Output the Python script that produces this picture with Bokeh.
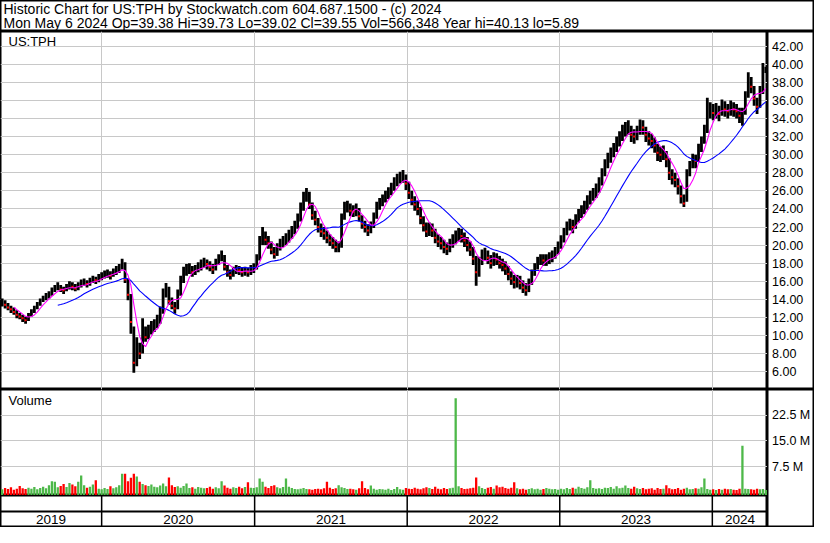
import numpy as np
import pandas as pd
from bokeh.plotting import figure
from bokeh.layouts import column, row
from bokeh.models import ColumnDataSource, Range1d, FixedTicker, Grid, Span
from bokeh.core.properties import value
from bokeh.embed import file_html
from bokeh.resources import INLINE

# ---------------- data (weekly) ----------------
week_start = pd.date_range("2019-05-06", periods=262, freq="7D")

close = [
    13.6, 13.4, 13.1, 12.9, 12.6, 12.3, 12.1, 11.9, 11.7, 12.2,
    12.6, 13.0, 13.4, 13.8, 14.1, 14.3, 14.6, 14.9, 15.2, 15.4,
    15.1, 15.0, 15.3, 15.6, 15.4, 15.2, 15.5, 15.8, 15.9, 15.7,
    16.0, 16.2, 16.1, 16.4, 16.6, 16.8, 16.9, 16.6, 17.0, 17.2,
    17.5, 18.0, 16.2, 14.5, 11.5, 7.0, 8.5, 8.0, 10.5, 9.8,
    10.5, 10.8, 11.0, 11.5, 12.5, 14.5, 15.3, 13.8, 13.3, 13.0,
    14.6, 16.0, 17.0, 17.2, 17.4, 17.0, 17.3, 17.5, 17.8, 18.0,
    17.9, 17.6, 17.3, 18.0, 18.5, 18.8, 17.6, 17.0, 16.7, 17.1,
    17.3, 17.2, 17.0, 17.1, 17.0, 17.2, 17.5, 18.5, 20.3, 21.0,
    20.6, 20.2, 19.5, 19.0, 19.6, 20.1, 20.4, 20.6, 21.0, 21.5,
    22.0, 22.8, 24.0, 25.2, 25.6, 24.5, 23.3, 22.8, 22.0, 21.5,
    21.3, 20.8, 20.5, 20.2, 19.8, 19.8, 23.0, 24.2, 24.3, 23.8,
    23.7, 23.9, 23.2, 22.4, 22.0, 21.6, 22.0, 23.0, 24.2, 24.6,
    25.0, 25.4, 25.8, 26.2, 26.8, 27.2, 27.5, 27.6, 26.8, 25.8,
    25.0, 24.5, 24.0, 23.0, 22.2, 21.5, 21.8, 21.6, 20.8, 20.4,
    20.2, 19.8, 19.6, 20.0, 20.5, 20.8, 21.2, 21.0, 20.5, 20.0,
    19.5, 18.5, 17.0, 18.0, 18.8, 19.0, 18.6, 18.0, 18.5, 18.4,
    18.0, 17.8, 17.4, 16.8, 16.3, 15.9, 16.0, 15.8, 15.3, 15.0,
    15.8, 16.8, 17.5, 18.2, 18.5, 18.3, 18.4, 18.6, 18.8, 19.2,
    19.8, 20.5, 21.3, 22.0, 22.3, 22.0, 22.8, 23.4, 23.8, 24.2,
    24.8, 25.3, 25.6, 26.0, 26.8, 27.8, 28.8, 29.4, 30.0, 30.5,
    31.2, 31.8, 32.5, 32.9, 33.0, 32.2, 32.0, 32.4, 33.2, 33.0,
    32.2, 31.8, 31.5, 31.0, 30.2, 30.0, 30.2, 29.5, 28.0, 27.5,
    27.2, 26.5, 25.4, 24.6, 27.8, 28.6, 29.4, 29.3, 30.5, 31.3,
    32.5, 34.5, 35.0, 34.6, 34.9, 34.5, 35.3, 35.0, 34.8, 35.2,
    35.0, 34.8, 34.3, 34.5, 36.4, 38.2, 37.5, 36.2, 35.3, 36.8,
    38.8, 39.55,
]

high = [
    14.1, 13.9, 13.6, 13.3, 13.1, 12.8, 12.5, 12.3, 12.1, 12.5,
    12.9, 13.3, 13.7, 14.1, 14.4, 14.7, 14.9, 15.3, 15.6, 15.9,
    15.6, 15.4, 15.7, 16.0, 15.9, 15.7, 15.9, 16.2, 16.3, 16.1,
    16.4, 16.6, 16.5, 16.8, 17.0, 17.2, 17.3, 17.1, 17.4, 17.7,
    17.9, 18.5, 18.1, 16.3, 14.6, 11.0, 9.8, 9.2, 11.9, 11.0,
    11.2, 11.6, 11.8, 12.3, 13.2, 15.2, 15.8, 15.4, 14.2, 13.7,
    15.1, 16.6, 17.6, 17.9, 18.0, 17.7, 17.8, 18.1, 18.4, 18.6,
    18.4, 18.2, 17.9, 18.5, 19.0, 19.4, 18.9, 17.8, 17.3, 17.6,
    17.8, 17.7, 17.5, 17.6, 17.5, 17.8, 18.0, 19.0, 21.0, 22.0,
    21.5, 21.0, 20.4, 19.8, 20.2, 20.7, 21.0, 21.3, 21.7, 22.1,
    22.7, 23.5, 24.7, 25.9, 26.3, 25.9, 24.7, 23.8, 23.0, 22.4,
    22.0, 21.6, 21.2, 20.9, 20.6, 20.4, 23.5, 24.8, 24.9, 24.6,
    24.4, 24.6, 24.1, 23.3, 22.7, 22.3, 22.6, 23.6, 24.8, 25.2,
    25.6, 26.0, 26.4, 26.9, 27.5, 27.9, 28.1, 28.3, 27.8, 27.0,
    26.0, 25.4, 24.9, 24.2, 23.2, 22.5, 22.5, 22.4, 21.8, 21.2,
    20.9, 20.6, 20.3, 20.7, 21.2, 21.6, 21.9, 21.8, 21.4, 20.9,
    20.4, 19.8, 18.8, 18.7, 19.5, 19.7, 19.4, 18.9, 19.2, 19.1,
    18.8, 18.5, 18.2, 17.7, 17.1, 16.7, 16.7, 16.6, 16.1, 15.8,
    16.3, 17.3, 18.0, 18.7, 19.0, 19.0, 19.0, 19.2, 19.4, 19.8,
    20.4, 21.1, 21.9, 22.6, 22.9, 22.8, 23.4, 24.0, 24.4, 24.9,
    25.5, 26.0, 26.3, 26.8, 27.5, 28.5, 29.5, 30.2, 30.8, 31.3,
    32.0, 32.6, 33.3, 33.6, 33.8, 33.2, 32.8, 33.2, 33.9, 33.8,
    33.1, 32.6, 32.3, 31.9, 31.2, 30.9, 31.0, 30.4, 29.6, 28.4,
    28.0, 27.4, 26.6, 25.6, 28.4, 29.3, 30.1, 30.0, 31.2, 32.0,
    33.3, 36.3, 35.8, 35.6, 35.7, 35.4, 36.1, 35.9, 35.6, 36.0,
    35.8, 35.6, 35.2, 35.2, 37.0, 39.1, 38.6, 37.6, 36.3, 37.6,
    40.13, 39.73,
]

low = [
    13.2, 13.0, 12.8, 12.5, 12.3, 11.9, 11.8, 11.5, 11.3, 11.6,
    12.1, 12.5, 12.9, 13.3, 13.7, 13.9, 14.1, 14.4, 14.8, 15.0,
    14.8, 14.6, 14.9, 15.1, 15.0, 14.9, 15.0, 15.3, 15.5, 15.3,
    15.5, 15.8, 15.7, 15.9, 16.1, 16.3, 16.4, 16.2, 16.5, 16.7,
    16.9, 17.3, 15.8, 13.9, 10.2, 5.89, 6.6, 7.4, 8.0, 9.3,
    9.6, 10.1, 10.4, 10.8, 11.3, 12.4, 14.2, 13.4, 12.9, 12.4,
    12.9, 14.4, 15.8, 16.6, 16.8, 16.5, 16.7, 17.0, 17.2, 17.5,
    17.3, 17.1, 16.8, 17.2, 17.8, 18.2, 17.2, 16.5, 16.2, 16.5,
    16.8, 16.7, 16.5, 16.6, 16.5, 16.7, 16.9, 17.3, 18.3, 20.0,
    20.0, 19.6, 19.0, 18.5, 18.8, 19.4, 19.8, 20.0, 20.3, 20.7,
    21.2, 21.8, 22.6, 23.8, 24.8, 24.0, 22.8, 22.2, 21.4, 20.9,
    20.6, 20.2, 19.9, 19.6, 19.2, 19.2, 19.7, 22.8, 23.6, 23.2,
    23.1, 23.2, 22.6, 21.8, 21.4, 21.0, 21.3, 21.9, 22.9, 23.9,
    24.3, 24.7, 25.1, 25.5, 26.0, 26.5, 26.8, 26.9, 26.1, 25.1,
    24.4, 23.8, 23.3, 22.3, 21.5, 20.9, 21.0, 20.9, 20.2, 19.8,
    19.5, 19.1, 18.9, 19.2, 19.7, 20.1, 20.4, 20.3, 19.8, 19.3,
    18.8, 17.8, 15.5, 16.5, 17.8, 18.3, 17.9, 17.4, 17.7, 17.8,
    17.4, 17.1, 16.7, 16.1, 15.6, 15.2, 15.3, 15.1, 14.7, 14.4,
    14.8, 15.6, 16.6, 17.3, 17.8, 17.7, 17.7, 17.9, 18.1, 18.5,
    19.0, 19.6, 20.3, 21.1, 21.6, 21.3, 21.8, 22.5, 23.0, 23.4,
    23.9, 24.5, 24.9, 25.2, 25.8, 26.6, 27.6, 28.5, 29.1, 29.7,
    30.3, 30.9, 31.5, 32.0, 32.2, 31.4, 31.2, 31.6, 32.2, 32.2,
    31.4, 31.0, 30.7, 30.2, 29.3, 29.2, 29.4, 28.6, 27.2, 26.7,
    26.4, 25.6, 24.6, 24.2, 24.8, 27.6, 28.5, 28.5, 29.2, 30.3,
    31.2, 32.4, 34.0, 33.8, 34.0, 33.7, 34.3, 34.2, 34.0, 34.3,
    34.2, 34.0, 33.5, 33.2, 34.4, 36.3, 36.8, 35.4, 34.5, 35.2,
    36.7, 39.02,
]

volume_m = [
    0.8, 1.2, 0.9, 1.4, 0.7, 1.0, 1.8, 1.1, 0.9, 1.3,
    1.0, 1.5, 0.8, 1.2, 1.6, 1.1, 2.0, 3.2, 3.0, 1.4,
    1.8, 2.4, 1.5, 2.7, 2.2, 1.7, 3.0, 4.9, 2.0, 1.3,
    1.6, 2.2, 3.5, 1.0, 0.8, 1.2, 0.9, 1.7, 1.1, 1.4,
    2.0, 5.4, 5.4, 3.2, 4.2, 5.4, 4.6, 3.0, 2.4, 2.0,
    1.8, 2.2, 1.6, 1.4, 1.9, 2.5, 1.7, 4.3, 2.0, 1.5,
    1.7, 1.3, 1.8, 2.5, 1.2, 1.4, 1.0, 1.5, 1.3, 1.1,
    1.2, 1.6, 1.0, 1.4, 1.1, 3.2, 1.9, 1.3, 1.0, 1.4,
    1.2, 1.6, 1.1, 1.5, 2.9, 1.3, 1.2, 1.4, 4.0, 3.0,
    1.6, 1.2, 1.8, 2.0, 1.4, 1.1, 1.5, 4.0, 1.6, 1.2,
    0.9, 0.8, 1.0, 1.2, 0.9, 0.8, 0.7, 0.9, 1.0, 0.8,
    1.1, 3.0, 1.3, 0.9, 1.1, 2.0, 1.4, 1.2, 0.9, 1.0,
    0.8, 0.7, 1.1, 3.2, 1.2, 0.8, 1.9, 1.0, 0.7, 0.9,
    0.8, 0.7, 1.0, 0.6, 0.9, 1.5, 0.8, 0.7, 1.2, 1.0,
    0.9, 1.3, 1.0, 0.8, 1.1, 1.4, 1.2, 0.9, 1.6, 1.0,
    0.8, 1.2, 0.9, 1.1, 1.3, 27.5, 1.7, 1.2, 0.9, 1.0,
    1.1, 1.3, 4.3, 1.7, 1.2, 0.9, 1.3, 1.5, 1.0, 1.9,
    1.4, 1.6, 1.2, 1.0, 1.3, 2.9, 1.1, 0.8, 1.0, 0.7,
    0.9, 1.1, 0.8, 1.0, 0.7, 0.9, 1.2, 1.0, 0.8, 0.9,
    0.7, 1.0, 0.8, 1.2, 0.9, 1.3, 1.0, 1.6, 1.2, 1.0,
    1.4, 3.5, 1.2, 1.0, 1.1, 0.9, 1.3, 1.2, 1.5, 1.0,
    1.7, 1.1, 1.3, 1.9, 1.2, 1.0, 1.6, 1.1, 0.9, 1.2,
    0.8, 1.0, 1.1, 0.7, 1.2, 0.9, 1.0, 2.0, 1.1, 0.8,
    0.9, 1.2, 0.7, 1.0, 1.3, 0.8, 0.9, 1.1, 1.0, 1.4,
    4.0, 0.9, 0.7, 0.8, 0.6, 0.9, 0.7, 1.0, 0.8, 0.9,
    0.7, 0.6, 1.0, 13.6, 1.0, 0.9, 0.8, 0.7, 1.0, 0.8,
    0.9, 0.6,
]

price_ticks = [6, 8, 10, 12, 14, 16, 18, 20, 22, 24, 26, 28, 30, 32, 34, 36, 38, 40, 42]
price_tick_labels = ["6.00", "8.00", "10.00", "12.00", "14.00", "16.00", "18.00", "20.00",
                     "22.00", "24.00", "26.00", "28.00", "30.00", "32.00", "34.00", "36.00",
                     "38.00", "40.00", "42.00"]
vol_ticks = [7.5, 15.0, 22.5]
vol_tick_labels = ["7.5 M", "15.0 M", "22.5 M"]
years = [2019, 2020, 2021, 2022, 2023, 2024]
year_labels = ["2019", "2020", "2021", "2022", "2023", "2024"]
title_line1 = "Historic Chart for US:TPH by Stockwatch.com 604.687.1500 - (c) 2024"
title_line2 = ("Mon May\u00a06 2024 Op=39.38 Hi=39.73 Lo=39.02 "
               "Cl=39.55 Vol=566,348 Year hi=40.13 lo=5.89")
symbol_label = "US:TPH"
volume_label = "Volume"
fast_weeks = 5     # ~25-day moving average
slow_weeks = 20    # ~100-day moving average

# ---------------- styling / layout ----------------
FONT = "Liberation Sans"
W_MAIN, W_AXIS = 767, 47
H_HEAD, H_PRICE, H_VOL, H_BAND = 31, 358, 106, 32
GRID = "#C8C8C8"
RED, GREEN = "#FF0000", "#4DB849"

df = pd.DataFrame({"week": week_start, "close": close, "high": high,
                   "low": low, "vol": volume_m})
df["x"] = df["week"] + pd.Timedelta(days=2)
df["ma_fast"] = df["close"].rolling(fast_weeks).mean()
df["ma_slow"] = df["close"].rolling(slow_weeks).mean()
chg = df["close"].diff().fillna(0.0)
df["vcolor"] = np.where(chg >= 0, GREEN, RED)
src = ColumnDataSource(df)
down_src = ColumnDataSource(df[chg < 0])

x_range = Range1d(start=pd.Timestamp("2019-05-04"), end=pd.Timestamp("2024-05-12"))
price_range = Range1d(4.03, 43.62)
vol_range = Range1d(-1.0, 30.1)

year_starts = [pd.Timestamp(f"{y}-01-01") for y in years]
year_ms = [t.value // 10**6 for t in year_starts]


def make_fig(w, h, xr, yr, x_type="linear"):
    f = figure(width=w, height=h, x_range=xr, y_range=yr, x_axis_type=x_type,
               x_axis_location=None, y_axis_location=None, output_backend="svg",
               toolbar_location=None, min_border=0, background_fill_color="white",
               border_fill_color="white", outline_line_color="black",
               outline_line_width=2)
    for g in list(f.xgrid) + list(f.ygrid):
        g.visible = False
    return f


def txt(f, x, y, text, size="13px", align="left"):
    f.text(x=x, y=y, text=text, text_font=value(FONT), text_font_size=value(size),
           text_align=align, text_baseline="middle", text_color="black")


# header
header = make_fig(W_MAIN + W_AXIS, H_HEAD, Range1d(0, W_MAIN + W_AXIS), Range1d(H_HEAD, 0))
txt(header, [3, 3], [8.0, 22.5], [title_line1, title_line2], size="14px")

# price panel
price = make_fig(W_MAIN, H_PRICE, x_range, price_range, x_type="datetime")
price.add_layout(Grid(dimension=0, ticker=FixedTicker(ticks=year_ms[1:]),
                      grid_line_color=GRID, grid_line_width=1))
price.add_layout(Grid(dimension=1, ticker=FixedTicker(ticks=price_ticks),
                      grid_line_color=GRID, grid_line_width=1))
price.segment(x0="x", y0="low", x1="x", y1="high", source=src,
              line_color="black", line_width=2.8)
price.scatter(x="x", y="close", source=down_src, marker="square", size=2,
              fill_color=RED, line_color=None)
price.line(x="x", y="ma_slow", source=src, line_color="#0000FF", line_width=1.1)
price.line(x="x", y="ma_fast", source=src, line_color="#FF00FF", line_width=1.1)
span_x = x_range.end - x_range.start
lab_x = x_range.start + span_x * (8.0 / W_MAIN)
lab_y = price_range.end - (price_range.end - price_range.start) * (10.0 / H_PRICE)
txt(price, [lab_x], [lab_y], [symbol_label])

price_axis = make_fig(W_AXIS, H_PRICE, Range1d(0, W_AXIS), price_range)
txt(price_axis, [4.5] * len(price_ticks), price_ticks, price_tick_labels, size="12.5px")

# volume panel
vol = make_fig(W_MAIN, H_VOL, x_range, vol_range, x_type="datetime")
vol.add_layout(Grid(dimension=0, ticker=FixedTicker(ticks=year_ms[1:]),
                    grid_line_color=GRID, grid_line_width=1))
vol.add_layout(Grid(dimension=1, ticker=FixedTicker(ticks=vol_ticks),
                    grid_line_color=GRID, grid_line_width=1))
bar_w = pd.Timedelta(days=5.5).total_seconds() * 1000
vol.vbar(x="x", top="vol", bottom=vol_range.start, width=bar_w, source=src,
         fill_color="vcolor", line_color=None)
vlab_y = vol_range.end - (vol_range.end - vol_range.start) * (11.0 / H_VOL)
txt(vol, [lab_x], [vlab_y], [volume_label])

# date band
band = make_fig(W_MAIN, H_BAND, x_range, Range1d(0, 2), x_type="datetime")
band.add_layout(Span(location=1, dimension="width", line_color="black", line_width=2))
band.segment(x0=year_starts[1:], y0=0, x1=year_starts[1:], y1=2,
             line_color="black", line_width=1.5)
bounds = [x_range.start] + year_starts[1:] + [x_range.end]
centers = [bounds[i] + (bounds[i + 1] - bounds[i]) / 2 for i in range(len(years))]
txt(band, centers, [0.5] * len(years), year_labels, size="13.5px", align="center")

# volume axis (spans volume panel and date band)
h_vaxis = H_VOL + H_BAND
vspan = vol_range.end - vol_range.start
vol_axis_range = Range1d(vol_range.end - vspan * h_vaxis / H_VOL, vol_range.end)
vol_axis = make_fig(W_AXIS, h_vaxis, Range1d(0, W_AXIS), vol_axis_range)
txt(vol_axis, [4.5] * len(vol_ticks), vol_ticks, vol_tick_labels, size="12.5px")

layout = column(header,
                row(price, price_axis),
                row(column(vol, band), vol_axis))

open("out.html", "w").write(file_html(layout, INLINE))
